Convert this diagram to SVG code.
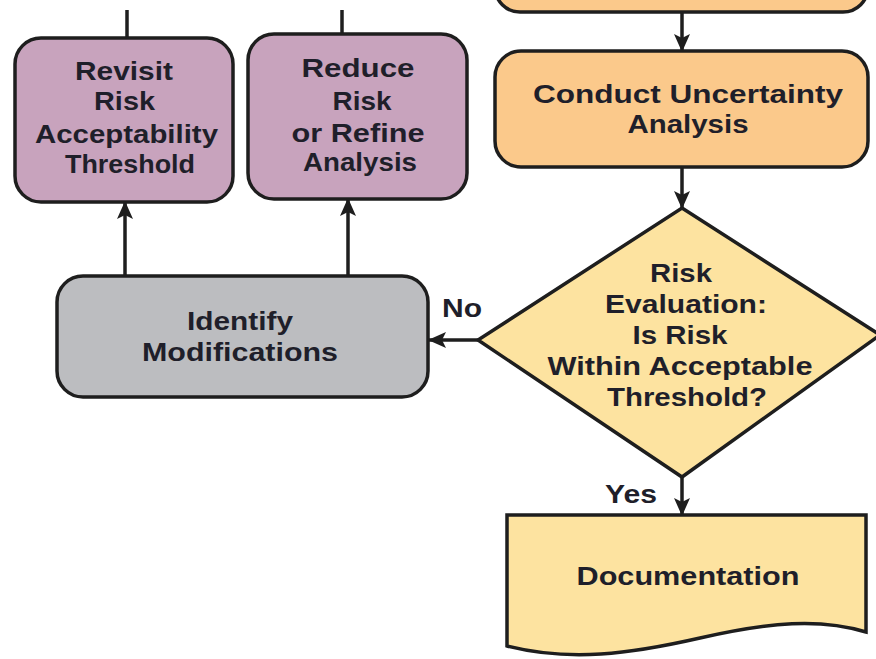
<svg xmlns="http://www.w3.org/2000/svg" width="876" height="659" viewBox="0 0 876 659">
<defs>
<marker id="ah" markerUnits="userSpaceOnUse" markerWidth="18" markerHeight="18" viewBox="0 0 18 18" refX="17" refY="9" orient="auto">
<path d="M0,1 L18,9 L0,17 L4,9 Z" fill="#1e1e1e"/>
</marker>
<style>
.box{stroke:#1e1e1e;stroke-width:3.5}
.purple{fill:#c8a3bd}
.orange{fill:#fbc98b}
.gray{fill:#bcbdc0}
.yellow{fill:#fde3a0}
.t{font-family:"Liberation Sans",Arial,sans-serif;font-weight:bold;font-size:25px;fill:#1f1f2a;text-anchor:middle}
.c{stroke:#1e1e1e;stroke-width:3.5;fill:none}
</style>
</defs>
<rect width="876" height="659" fill="#ffffff"/>
<g id="connectors">
<line class="c" x1="127" y1="10" x2="127" y2="38"/>
<line class="c" x1="342" y1="10" x2="342" y2="34"/>
<line class="c" x1="682" y1="12" x2="682" y2="51" marker-end="url(#ah)"/>
<line class="c" x1="682" y1="167" x2="682" y2="208" marker-end="url(#ah)"/>
<line class="c" x1="478" y1="340" x2="429" y2="340" marker-end="url(#ah)"/>
<line class="c" x1="682" y1="477" x2="682" y2="515" marker-end="url(#ah)"/>
<line class="c" x1="125" y1="275" x2="125" y2="202" marker-end="url(#ah)"/>
<line class="c" x1="348" y1="275" x2="348" y2="199" marker-end="url(#ah)"/>
<text class="t" x="462" y="317" textLength="40" lengthAdjust="spacingAndGlyphs">No</text>
<text class="t" x="631" y="503" textLength="52" lengthAdjust="spacingAndGlyphs">Yes</text>
</g>
<g id="top-partial">
<rect class="box orange" x="495" y="-60" width="373" height="72" rx="25"/>
</g>
<g id="revisit">
<rect class="box purple" x="15" y="38" width="218" height="164" rx="26"/>
<text class="t" x="124" y="80" textLength="98" lengthAdjust="spacingAndGlyphs">Revisit</text>
<text class="t" x="124.5" y="110" textLength="61" lengthAdjust="spacingAndGlyphs">Risk</text>
<text class="t" x="126.5" y="143" textLength="183" lengthAdjust="spacingAndGlyphs">Acceptability</text>
<text class="t" x="130" y="173" textLength="130" lengthAdjust="spacingAndGlyphs">Threshold</text>
</g>
<g id="reduce">
<rect class="box purple" x="248" y="34" width="219" height="165" rx="26"/>
<text class="t" x="358" y="77" textLength="113" lengthAdjust="spacingAndGlyphs">Reduce</text>
<text class="t" x="362" y="110" textLength="59" lengthAdjust="spacingAndGlyphs">Risk</text>
<text class="t" x="358" y="142" textLength="133" lengthAdjust="spacingAndGlyphs">or Refine</text>
<text class="t" x="360" y="171" textLength="114" lengthAdjust="spacingAndGlyphs">Analysis</text>
</g>
<g id="uncertainty">
<rect class="box orange" x="495" y="51" width="373" height="116" rx="26"/>
<text class="t" x="688" y="103" textLength="310" lengthAdjust="spacingAndGlyphs">Conduct Uncertainty</text>
<text class="t" x="688" y="133" textLength="121" lengthAdjust="spacingAndGlyphs">Analysis</text>
</g>
<g id="modifications">
<rect class="box gray" x="57" y="276" width="371" height="121" rx="26"/>
<text class="t" x="240" y="330" textLength="106" lengthAdjust="spacingAndGlyphs">Identify</text>
<text class="t" x="240" y="361" textLength="196" lengthAdjust="spacingAndGlyphs">Modifications</text>
</g>
<g id="decision">
<polygon class="box yellow" points="682,208 880,335 682,477 478,340"/>
<text class="t" x="681" y="282" textLength="62" lengthAdjust="spacingAndGlyphs">Risk</text>
<text class="t" x="686" y="313" textLength="162" lengthAdjust="spacingAndGlyphs">Evaluation:</text>
<text class="t" x="680" y="344" textLength="95" lengthAdjust="spacingAndGlyphs">Is Risk</text>
<text class="t" x="680" y="375" textLength="265" lengthAdjust="spacingAndGlyphs">Within Acceptable</text>
<text class="t" x="687" y="406" textLength="160" lengthAdjust="spacingAndGlyphs">Threshold?</text>
</g>
<g id="documentation">
<path class="box yellow" d="M507,515 H866 V632 C820,618 770,622 700,638 C630,654 570,662 507,646 Z"/>
<text class="t" x="688" y="585" textLength="223" lengthAdjust="spacingAndGlyphs">Documentation</text>
</g>
</svg>
